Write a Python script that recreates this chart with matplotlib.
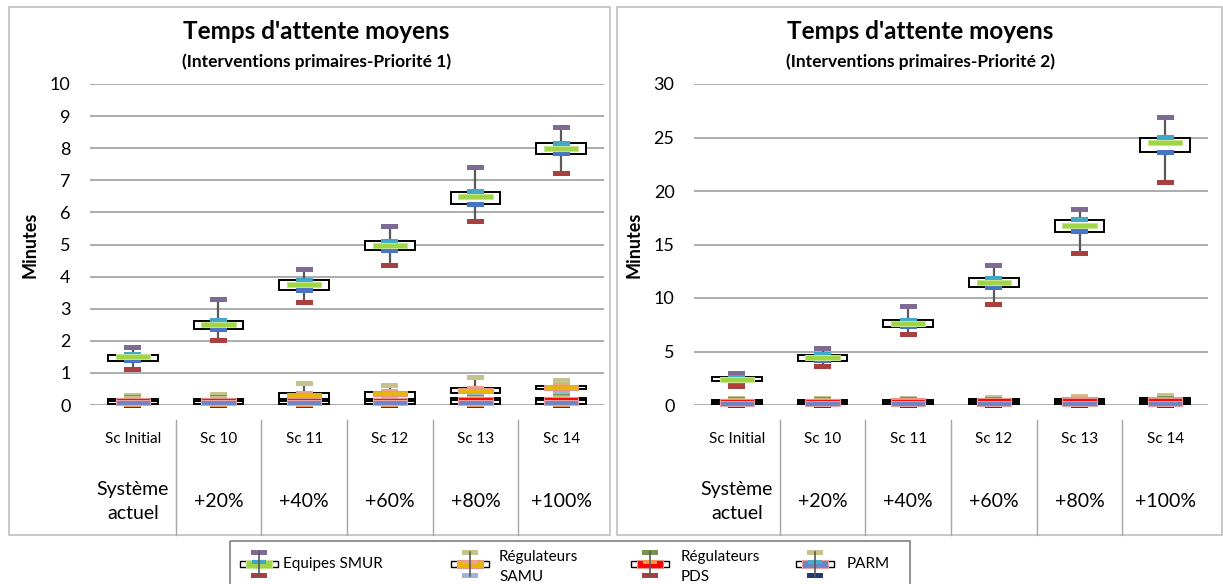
import numpy as np
import matplotlib
matplotlib.use("Agg")
import matplotlib.pyplot as plt
from matplotlib.patches import Rectangle
from matplotlib.lines import Line2D

plt.rcParams["font.family"] = ["Lato", "DejaVu Sans"]

W, H = 1223, 584

SCENARIOS = ["Sc Initial", "Sc 10", "Sc 11", "Sc 12", "Sc 13", "Sc 14"]
INCREASES = ["Système\nactuel", "+20%", "+40%", "+60%", "+80%", "+100%"]

# ── Priorité 1 (minutes): min, q1, mean, q3, max ──────────────────────────
SMUR_P1 = dict(lo=[1.12, 2.00, 3.20, 4.35, 5.73, 7.20],
               q1=[1.38, 2.36, 3.58, 4.82, 6.26, 7.82],
               mid=[1.50, 2.50, 3.75, 4.97, 6.48, 8.00],
               q3=[1.57, 2.63, 3.88, 5.10, 6.64, 8.15],
               hi=[1.80, 3.30, 4.22, 5.55, 7.41, 8.66])
SAMU_P1 = dict(lo=[0.04, 0.05, 0.08, 0.10, 0.28, 0.40],
               q1=[0.06, 0.08, 0.12, 0.15, 0.37, 0.50],
               mid=[0.12, 0.14, 0.30, 0.36, 0.45, 0.56],
               q3=[0.18, 0.20, 0.36, 0.42, 0.52, 0.60],
               hi=[0.30, 0.33, 0.66, 0.60, 0.86, 0.75])
PDS_P1 = dict(lo=[0.03, 0.03, 0.03, 0.03, 0.03, 0.03],
              q1=[0.05, 0.05, 0.05, 0.05, 0.05, 0.05],
              mid=[0.14, 0.14, 0.15, 0.15, 0.17, 0.18],
              q3=[0.20, 0.20, 0.20, 0.20, 0.21, 0.22],
              hi=[0.22, 0.22, 0.22, 0.22, 0.24, 0.25])
PARM_P1 = dict(lo=[0.00, 0.00, 0.00, 0.00, 0.00, 0.00],
               q1=[0.03, 0.03, 0.03, 0.03, 0.03, 0.03],
               mid=[0.08, 0.08, 0.08, 0.08, 0.09, 0.09],
               q3=[0.14, 0.14, 0.14, 0.14, 0.15, 0.15],
               hi=[0.20, 0.20, 0.20, 0.20, 0.21, 0.21])

# ── Priorité 2 (minutes) ──────────────────────────────────────────────────
SMUR_P2 = dict(lo=[1.70, 3.60, 6.60, 9.35, 14.2, 20.8],
               q1=[2.20, 4.15, 7.30, 11.0, 16.2, 23.6],
               mid=[2.40, 4.45, 7.60, 11.45, 16.8, 24.5],
               q3=[2.60, 4.70, 7.90, 11.85, 17.3, 25.0],
               hi=[2.95, 5.30, 9.25, 13.0, 18.3, 26.9])
SAMU_P2 = dict(lo=[0.10, 0.10, 0.10, 0.10, 0.10, 0.10],
               q1=[0.20, 0.20, 0.20, 0.20, 0.25, 0.25],
               mid=[0.35, 0.35, 0.40, 0.45, 0.50, 0.55],
               q3=[0.45, 0.45, 0.50, 0.55, 0.60, 0.65],
               hi=[0.60, 0.60, 0.65, 0.70, 0.75, 0.85])
PDS_P2 = dict(lo=[0.05, 0.05, 0.05, 0.05, 0.05, 0.05],
              q1=[0.10, 0.10, 0.10, 0.10, 0.10, 0.10],
              mid=[0.30, 0.30, 0.35, 0.40, 0.40, 0.45],
              q3=[0.40, 0.40, 0.40, 0.45, 0.45, 0.50],
              hi=[0.50, 0.50, 0.50, 0.55, 0.55, 0.60])
PARM_P2 = dict(lo=[0.00, 0.00, 0.00, 0.00, 0.00, 0.00],
               q1=[0.05, 0.05, 0.05, 0.05, 0.05, 0.05],
               mid=[0.15, 0.15, 0.15, 0.15, 0.18, 0.18],
               q3=[0.30, 0.30, 0.30, 0.30, 0.32, 0.32],
               hi=[0.45, 0.45, 0.45, 0.45, 0.48, 0.50])

# marker colours per series: hi, q3, mid, q1, lo
STYLE = {
    "Equipes SMUR":      dict(hi="#7E6A93", q3="#3FA8C8", mid="#9ED544", q1="#4873C6", lo="#A9403F", mid_edge="#C6E48F"),
    "Régulateurs\nSAMU": dict(hi="#C5C389", q3="#F0A08A", mid="#E4B80A", q1="#9DB5DA", lo="#9DB5DA", mid_edge="#E8948C"),
    "Régulateurs\nPDS":  dict(hi="#77934F", q3="#F79646", mid="#FF0000", q1="#9ED544", lo="#A9403F", mid_edge="#E8948C"),
    "PARM":              dict(hi="#C5C389", q3="#4BACC6", mid="#6A86C8", q1="#F79646", lo="#1F3C78", mid_edge="#E8A0A0"),
}
GRID = "#A6A6A6"


def px_axes(x0, y0, x1, y1):
    return [x0 / W, 1 - y1 / H, (x1 - x0) / W, (y1 - y0) / H]


def draw_series(ax, d, st, ph):
    mh = 5 * ph
    for i in range(len(SCENARIOS)):
        ax.vlines(i, d["lo"][i], d["hi"][i], color="#595959", lw=1.6, zorder=3)
        ax.add_patch(Rectangle((i - 0.29, d["q1"][i]), 0.58, d["q3"][i] - d["q1"][i],
                               fc="white", ec="black", lw=1.4, zorder=3))
        for key, w in (("hi", 0.2), ("lo", 0.2), ("q3", 0.2), ("q1", 0.2)):
            ax.add_patch(Rectangle((i - w / 2, d[key][i] - mh / 2), w, mh,
                                   fc=st[key], ec="none", zorder=4))
        ax.add_patch(Rectangle((i - 0.2, d["mid"][i] - mh / 2), 0.4, mh,
                               fc=st["mid"], ec=st["mid_edge"], lw=0.8, zorder=5))


def draw_panel(ax, series, ymax, step, title, subtitle):
    ph = ymax / 321.0
    ax.set_xlim(-0.5, len(SCENARIOS) - 0.5)
    ax.set_ylim(0, ymax)
    for s in ax.spines.values():
        s.set_visible(False)
    ax.set_xticks([])
    ax.set_yticks(np.arange(0, ymax + step, step))
    ax.tick_params(axis="y", length=0, labelsize=13, pad=14)
    for v in np.arange(0, ymax + step, step):
        ax.axhline(v, color=GRID, lw=1.3, zorder=1)
    for d, name in zip(series, STYLE):
        draw_series(ax, d, STYLE[name], ph)
    for p in ax.patches:
        p.set_clip_on(False)
    for c in ax.collections:
        c.set_clip_on(False)

    ax.set_ylabel("Minutes", fontsize=13, fontweight="bold", labelpad=8)
    ax.text(0.44, 1.165, title, transform=ax.transAxes, ha="center", va="center",
            fontsize=17.5, fontweight="bold")
    ax.text(0.44, 1.07, subtitle, transform=ax.transAxes, ha="center", va="center",
            fontsize=12.5, fontweight="bold")

    # table under the axis
    tr = ax.get_xaxis_transform()
    for i, (sc, inc) in enumerate(zip(SCENARIOS, INCREASES)):
        ax.text(i, -0.105, sc, transform=tr, ha="center", va="center", fontsize=11)
        ax.text(i, -0.30, inc, transform=tr, ha="center", va="center", fontsize=14,
                linespacing=1.5)
    for i in range(1, len(SCENARIOS)):
        ax.add_line(Line2D([i - 0.5, i - 0.5], [-0.047, -0.405], transform=tr,
                           color=GRID, lw=1.0, clip_on=False))


fig = plt.figure(figsize=(W / 100, H / 100), dpi=100)

# background overlay in pixel coordinates: frames + legend
bg = fig.add_axes([0, 0, 1, 1], zorder=0)
bg.set_xlim(0, W)
bg.set_ylim(H, 0)
bg.axis("off")
bg.add_patch(Rectangle((9, 7), 601, 528, fc="none", ec="#BFBFBF", lw=1.2))
bg.add_patch(Rectangle((617, 7), 605, 528, fc="none", ec="#BFBFBF", lw=1.2))
bg.add_patch(Rectangle((230, 541), 680, 60, fc="none", ec="#7F7F7F", lw=1.2, clip_on=False))

legend_x = [259, 470, 650, 815]
legend_tx = [283, 499, 681, 847]
for gx, tx, name in zip(legend_x, legend_tx, STYLE):
    st = STYLE[name]
    gy = 564
    bg.add_patch(Rectangle((gx - 19, gy - 3), 38, 6, fc="white", ec="black", lw=1.0))
    bg.plot([gx, gx], [gy - 12, gy + 12], color="#595959", lw=1.2)
    bg.add_patch(Rectangle((gx - 8, gy - 14), 16, 5, fc=st["hi"], ec="none"))
    bg.add_patch(Rectangle((gx - 8, gy + 9), 16, 5, fc=st["lo"], ec="none"))
    bg.add_patch(Rectangle((gx - 13, gy - 4), 26, 8, fc=st["mid"], ec=st["mid_edge"], lw=0.8))
    bg.add_patch(Rectangle((gx - 7, gy - 4), 14, 4, fc=st["q3"], ec="none"))
    bg.text(tx, gy if "\n" not in name else gy + 3, name, ha="left", va="center",
            fontsize=11, linespacing=1.6)

ax1 = fig.add_axes(px_axes(90, 84, 604, 405), zorder=1)
ax1.patch.set_alpha(0)
draw_panel(ax1, [SMUR_P1, SAMU_P1, PDS_P1, PARM_P1], 10, 1,
           "Temps d'attente moyens", "(Interventions primaires-Priorité 1)")

ax2 = fig.add_axes(px_axes(694, 84, 1208, 405), zorder=1)
ax2.patch.set_alpha(0)
draw_panel(ax2, [SMUR_P2, SAMU_P2, PDS_P2, PARM_P2], 30, 5,
           "Temps d'attente moyens", "(Interventions primaires-Priorité 2)")

fig.savefig("out.png", dpi=100)
